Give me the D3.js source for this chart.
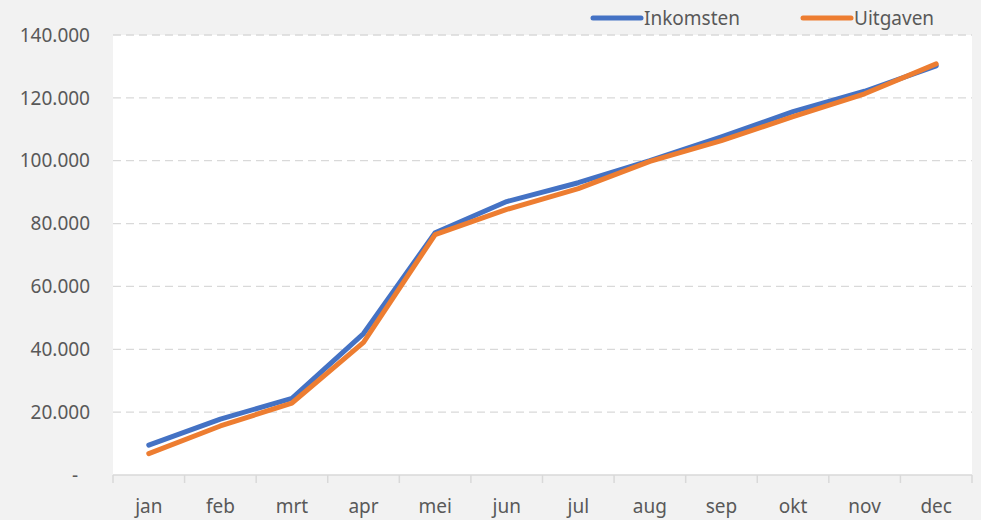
<!DOCTYPE html>
<html>
<head>
<meta charset="utf-8">
<script src="https://cdn.jsdelivr.net/npm/d3@7"></script>
<style>
  html, body { margin: 0; padding: 0; background: #f2f2f2; }
  svg { display: block; }
</style>
</head>
<body>
<div id="chart"></div>
<script>
var months = ["jan", "feb", "mrt", "apr", "mei", "jun", "jul", "aug", "sep", "okt", "nov", "dec"];
var inkomsten = [9500, 17800, 24400, 45000, 77100, 87000, 93000, 100000, 107600, 115600, 122100, 130200];
var uitgaven  = [6800, 15600, 22900, 42200, 76500, 84500, 91100, 99800, 106400, 114000, 121300, 130800];
var yTicks = [0, 20000, 40000, 60000, 80000, 100000, 120000, 140000];

var width = 981, height = 520,
    margin = { top: 35, right: 9, bottom: 45, left: 113 };
var font = "'Segoe UI', 'Noto Sans', sans-serif",
    textColor = "#595959",
    gridColor = "#d9d9d9";

var svg = d3.select('#chart').append('svg')
  .attr('width', width)
  .attr('height', height);

svg.append('rect')
  .attr('width', width).attr('height', height)
  .attr('fill', '#f2f2f2');

var x = d3.scaleBand()
  .domain(months)
  .range([margin.left, width - margin.right]);

var y = d3.scaleLinear()
  .domain([0, 140000])
  .range([height - margin.bottom, margin.top]);

// plot area
svg.append('rect')
  .attr('x', margin.left)
  .attr('y', margin.top)
  .attr('width', width - margin.left - margin.right)
  .attr('height', height - margin.top - margin.bottom)
  .attr('fill', '#ffffff');

// gridlines
svg.append('g').selectAll('line')
  .data(yTicks.filter(function(d){ return d > 0; }))
  .enter().append('line')
    .attr('x1', margin.left)
    .attr('x2', width - margin.right)
    .attr('y1', function(d){ return y(d); })
    .attr('y2', function(d){ return y(d); })
    .attr('stroke', gridColor)
    .attr('stroke-width', 1.3)
    .attr('stroke-dasharray', '8,5');

// y labels
var fmt = function(d){
  if (d === 0) return '-';
  return d3.format(',')(d).replace(/,/g, '.');
};
svg.append('g').selectAll('text')
  .data(yTicks)
  .enter().append('text')
    .attr('x', function(d){ return d === 0 ? 78 : 90; })
    .attr('y', function(d){ return y(d); })
    .attr('dy', '0.35em')
    .attr('text-anchor', 'end')
    .attr('font-family', font)
    .attr('font-size', 19)
    .attr('fill', textColor)
    .text(fmt);

// x axis
var xAxis = svg.append('g')
  .attr('transform', 'translate(0,' + (height - margin.bottom) + ')');
xAxis.append('line')
  .attr('x1', margin.left).attr('x2', width - margin.right)
  .attr('stroke', gridColor).attr('stroke-width', 1.5);
xAxis.selectAll('.tick')
  .data(months.concat(['end']))
  .enter().append('line')
    .attr('class', 'tick')
    .attr('x1', function(d){ return d === 'end' ? width - margin.right : x(d); })
    .attr('x2', function(d){ return d === 'end' ? width - margin.right : x(d); })
    .attr('y1', 0).attr('y2', 8)
    .attr('stroke', gridColor).attr('stroke-width', 1.5);
xAxis.selectAll('text')
  .data(months)
  .enter().append('text')
    .attr('x', function(d){ return x(d) + x.bandwidth() / 2; })
    .attr('y', 38)
    .attr('text-anchor', 'middle')
    .attr('font-family', font)
    .attr('font-size', 19)
    .attr('fill', textColor)
    .text(function(d){ return d; });

// lines
var series = [
  { name: 'Inkomsten', values: inkomsten, color: '#4472c4' },
  { name: 'Uitgaven', values: uitgaven, color: '#ed7d31' }
];

var line = d3.line()
  .x(function(d, i){ return x(months[i]) + x.bandwidth() / 2; })
  .y(function(d){ return y(d); });

series.forEach(function(s){
  svg.append('path')
    .attr('d', line(s.values))
    .attr('fill', 'none')
    .attr('stroke', s.color)
    .attr('stroke-width', 5)
    .attr('stroke-linecap', 'round')
    .attr('stroke-linejoin', 'round');
});

// legend
var legendX = [593, 803];
var legend = svg.append('g');
series.forEach(function(s, i){
  legend.append('line')
    .attr('x1', legendX[i]).attr('x2', legendX[i] + 48)
    .attr('y1', 18).attr('y2', 18)
    .attr('stroke', s.color)
    .attr('stroke-width', 5)
    .attr('stroke-linecap', 'round');
  legend.append('text')
    .attr('x', legendX[i] + 51)
    .attr('y', 18)
    .attr('dy', '0.35em')
    .attr('font-family', font)
    .attr('font-size', 19)
    .attr('fill', textColor)
    .text(s.name);
});
</script>
</body>
</html>
